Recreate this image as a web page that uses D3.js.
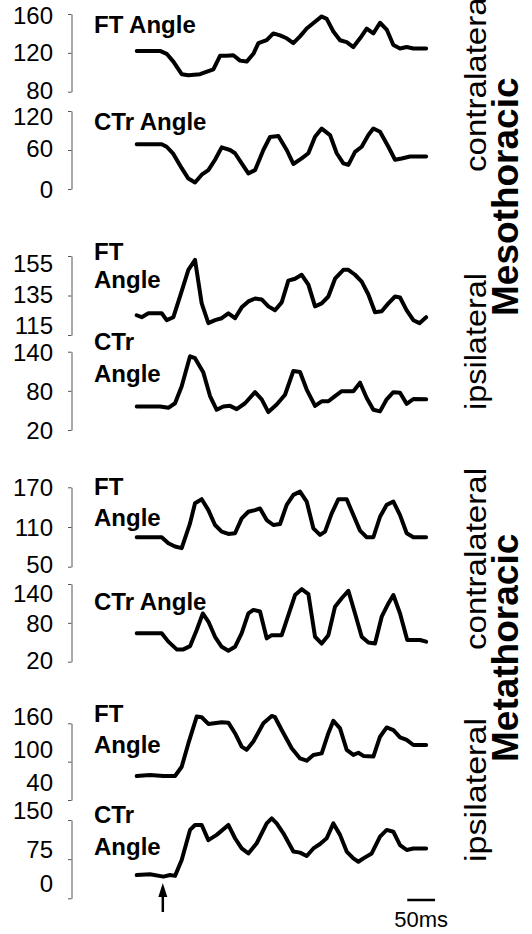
<!DOCTYPE html>
<html>
<head>
<meta charset="utf-8">
<script src="https://cdn.jsdelivr.net/npm/d3@7"></script>
<style>
  html, body { margin: 0; padding: 0; background: #fff; }
  svg { display: block; }
  text { font-family: "Liberation Sans", Arial, sans-serif; fill: #000; }
</style>
</head>
<body>
<div id="chart"></div>
<script>
// joint angle traces (deg) against time (ms from start of trace)
var t_meso_con_ft = [0,42,54,66,81,93,114,138,150,162,174,186,198,210,219,234,246,258,270,282,294,306,321,333,342,354,366,378,390,402,414,426,438,450,462,474,486,498,521];
var v_meso_con_ft = [122,122,119,111,98,97,98,103,117,117,117.5,112,111,119,130,133,140,138,135,130,137,145,152,157.5,155,142,133,131,126,135,145,140,151,144,128,124.5,126,124.5,124.5];

var t_meso_con_ctr = [0,45,54,66,81,93,105,117,129,141,153,168,177,189,201,213,228,240,255,270,282,297,309,321,333,348,360,372,381,393,405,417,426,438,453,465,477,492,521];
var v_meso_con_ctr = [69,69,65,54,32,16,10,22,29,45,64,60,55,39.5,24,29,60,80,81.5,60,38.5,47,55,80.5,93,83,55,39.5,37,57,65,83,93,88,65,45,47,50,50];

var t_meso_ips_ft = [0,9,21,45,54,66,78,93,105,117,129,141,153,165,177,189,201,213,225,237,249,261,273,285,297,309,321,333,345,357,372,381,393,405,417,429,441,453,465,474,486,498,509,521];
var v_meso_ips_ft = [125,124,126,126,122.5,124,134.5,148,153,131,121,122.5,123.5,126,123.5,129,132,133.5,133,129.5,127.5,131.5,142.5,143.5,145.5,140.5,129.5,131,134.5,143.5,148,148,145.5,142,135.5,126.5,127,131,134.5,134,127.5,122.5,121,124];

var t_meso_ips_ctr = [0,42,57,69,81,96,105,120,132,144,156,168,180,195,213,225,237,252,267,282,294,306,321,333,345,357,369,390,402,414,426,438,450,462,474,486,498,521];
var v_meso_ips_ctr = [56,56,54,61,87,133,130,108,72,51,56,57,52,61,78,67,47.5,59,74,110.5,109,82,57,64,64,72,79.5,79.5,92.5,69,51,48.5,67,78,77,60,67.5,67];

var t_meta_con_ft = [0,45,57,69,81,96,105,117,129,141,153,165,177,189,201,213,222,234,246,258,270,282,294,306,318,330,339,351,363,378,390,402,414,426,438,450,462,474,486,498,521];
var v_meta_con_ft = [94.5,94.5,85.5,80.5,78,115.5,146,152,135.5,113,103,99.5,100.5,123,133,135.5,138,120.5,113,114.5,143.5,158.5,163.5,148.5,108,98,103,130.5,152,152,128,104.5,94.5,94.5,125.5,143.5,148.5,128,100.5,94.5,94.5];

var t_meta_con_ctr = [0,45,57,72,84,96,108,119,129,141,153,165,177,189,201,210,222,234,243,261,273,285,297,309,321,333,345,357,369,381,393,405,417,429,441,453,462,474,487,510,521];
var v_meta_con_ctr = [64,64,51,39,39,44,69,94.5,82,58.5,43,37,43,64,94.5,100,97.5,56,61,61,92,123,132,124.5,58.5,48,61,105,118,129.5,94.5,58.5,49.5,48,89.5,110,123,94.5,53.5,53.5,51];

var t_meta_ips_ft = [0,24,48,69,81,93,108,117,129,153,165,177,189,198,210,228,243,249,261,279,294,306,318,333,345,354,366,378,390,399,408,426,438,450,462,474,486,498,521];
var v_meta_ips_ft = [77.5,79,77.5,77.5,92,128.5,170.5,169.5,159,161.5,161,144.5,123.5,118.5,131.5,160,171.5,169.5,149.5,121,105,101.5,110.5,113,144.5,164,152,118.5,110.5,114,109,108,139,153.5,149.5,138,134,126,126];

var t_meta_ips_ctr = [0,24,48,60,69,81,96,105,117,129,144,165,177,189,201,216,234,243,252,264,282,294,306,318,330,342,354,366,378,390,399,408,423,438,450,462,474,486,498,521];
var v_meta_ips_ctr = [44.5,46,41.5,44.5,43,73.5,131,140.5,140.5,111.5,121.5,140.5,115,95.5,86,105.5,143.5,153,143.5,124.5,89.5,87.5,81,95.5,104,115,143.5,121.5,89.5,76.5,70,76.5,86,118,131,127.5,102,92.5,95.5,95.5];

// axis ranges and tick labels of each panel
var y_domains = [[80,160],[0,120],[115,155],[20,140],[50,170],[20,140],[40,160],[0,150]];
var y_ticks = [[160,120,80],[120,60,0],[155,135,115],[140,80,20],[170,110,50],[140,80,20],[160,100,40],[150,75,0]];
var titles = [["FT Angle"],["CTr Angle"],["FT","Angle"],["CTr","Angle"],["FT","Angle"],["CTr Angle"],["FT","Angle"],["CTr","Angle"]];

var stim_time = 47;      // arrow
var bar_ms = [487, 537]; // 50 ms scale bar

var series = [
  [t_meso_con_ft, v_meso_con_ft], [t_meso_con_ctr, v_meso_con_ctr],
  [t_meso_ips_ft, v_meso_ips_ft], [t_meso_ips_ctr, v_meso_ips_ctr],
  [t_meta_con_ft, v_meta_con_ft], [t_meta_con_ctr, v_meta_con_ctr],
  [t_meta_ips_ft, v_meta_ips_ft], [t_meta_ips_ctr, v_meta_ips_ctr]
];

// layout: axis top/bottom in px, title baselines, label nudges
var layout = [
  {top: 14,    bot: 91.7,  title: [33.3],        nudge: [1,0,-1]},
  {top: 111,   bot: 189,   title: [130],         nudge: [5,-2,0]},
  {top: 256,   bot: 335,   title: [260,288.3],   nudge: [7,-1,-10]},
  {top: 351.7, bot: 430,   title: [350,381.7],   nudge: [1,1,0]},
  {top: 487.3, bot: 566.7, title: [495,526],     nudge: [0,0,-2]},
  {top: 584,   bot: 661.7, title: [610],         nudge: [9,1,-1]},
  {top: 723.3, bot: 800,   title: [721.7,753.3], nudge: [-7,-12,-18]},
  {top: 820,   bot: 898.3, title: [823.3,855],   nudge: [-10,-10,-15]}
];

var side_labels = [
  {text: "contralateral", x: 486, y: 172, len: 182, bold: false},
  {text: "Mesothoracic",  x: 518, y: 316, len: 0,   bold: true},
  {text: "ipsilateral",   x: 486, y: 410, len: 137, bold: false},
  {text: "contralateral", x: 486, y: 650, len: 182, bold: false},
  {text: "Metathoracic",  x: 518, y: 762, len: 0,   bold: true},
  {text: "ipsilateral",   x: 486, y: 862, len: 144, bold: false}
];

var width = 532, height = 934;
var axis_x = 71.5;

var svg = d3.select("#chart").append("svg")
  .attr("width", width)
  .attr("height", height);

var x = d3.scaleLinear()
  .domain([0, 520])
  .range([136.7, 136.7 + 520/1.8]);

for (var p = 0; p < series.length; p++) {
  var lay = layout[p];
  var y = d3.scaleLinear()
    .domain(y_domains[p])
    .range([lay.bot, lay.top]);

  var g = svg.append("g");

  // axis line with 3 ticks at the ends and the middle
  var ymid = (y_domains[p][0] + y_domains[p][1]) / 2;
  var ax = d3.axisLeft(y)
    .tickValues([y_domains[p][0], ymid, y_domains[p][1]])
    .tickSize(3.5)
    .tickSizeOuter(0)
    .tickFormat("");
  g.append("g")
    .attr("transform", "translate(" + axis_x + ",0)")
    .call(ax)
    .call(function(s) {
      s.selectAll("path, line").attr("stroke", "#555").attr("stroke-width", 1);
    });

  // tick labels
  g.selectAll("text.tick_lbl")
    .data(y_ticks[p])
    .enter().append("text")
    .attr("class", "tick_lbl")
    .attr("x", 53)
    .attr("y", function(d, i) { return y(d) + lay.nudge[i]; })
    .attr("dy", "0.36em")
    .attr("text-anchor", "end")
    .style("font-size", "24px")
    .text(function(d) { return d; });

  // title
  for (var k = 0; k < titles[p].length; k++) {
    g.append("text")
      .attr("x", 94)
      .attr("y", lay.title[k])
      .style("font-size", "24px")
      .style("font-weight", "bold")
      .text(titles[p][k]);
  }

  var ts = series[p][0], vs = series[p][1];
  var line = d3.line()
    .x(function(d, i) { return x(ts[i]); })
    .y(function(d) { return y(d); });

  g.append("path")
    .datum(vs)
    .attr("d", line)
    .attr("fill", "none")
    .attr("stroke", "#000")
    .attr("stroke-width", 4)
    .attr("stroke-linejoin", "round")
    .attr("stroke-linecap", "round");
}

// side labels
side_labels.forEach(function(s) {
  var t = svg.append("text")
    .attr("transform", "translate(" + s.x + "," + s.y + ") rotate(-90)")
    .style("font-size", s.bold ? "37px" : "30px")
    .style("font-weight", s.bold ? "bold" : "normal")
    .text(s.text);
  if (s.len) t.attr("textLength", s.len).attr("lengthAdjust", "spacingAndGlyphs");
});

// stimulus arrow
var ax0 = x(stim_time);
svg.append("line")
  .attr("x1", ax0).attr("x2", ax0)
  .attr("y1", 912).attr("y2", 892)
  .attr("stroke", "#000").attr("stroke-width", 2.5);
svg.append("path")
  .attr("d", "M" + ax0 + ",883 L" + (ax0 - 4.5) + ",897 L" + (ax0 + 4.5) + ",897 Z")
  .attr("fill", "#000");

// scale bar
svg.append("line")
  .attr("x1", x(bar_ms[0])).attr("x2", x(bar_ms[1]))
  .attr("y1", 900).attr("y2", 900)
  .attr("stroke", "#000").attr("stroke-width", 2.5);
svg.append("text")
  .attr("x", x((bar_ms[0] + bar_ms[1]) / 2))
  .attr("y", 927)
  .attr("text-anchor", "middle")
  .style("font-size", "22px")
  .text("50ms");
</script>
</body>
</html>
